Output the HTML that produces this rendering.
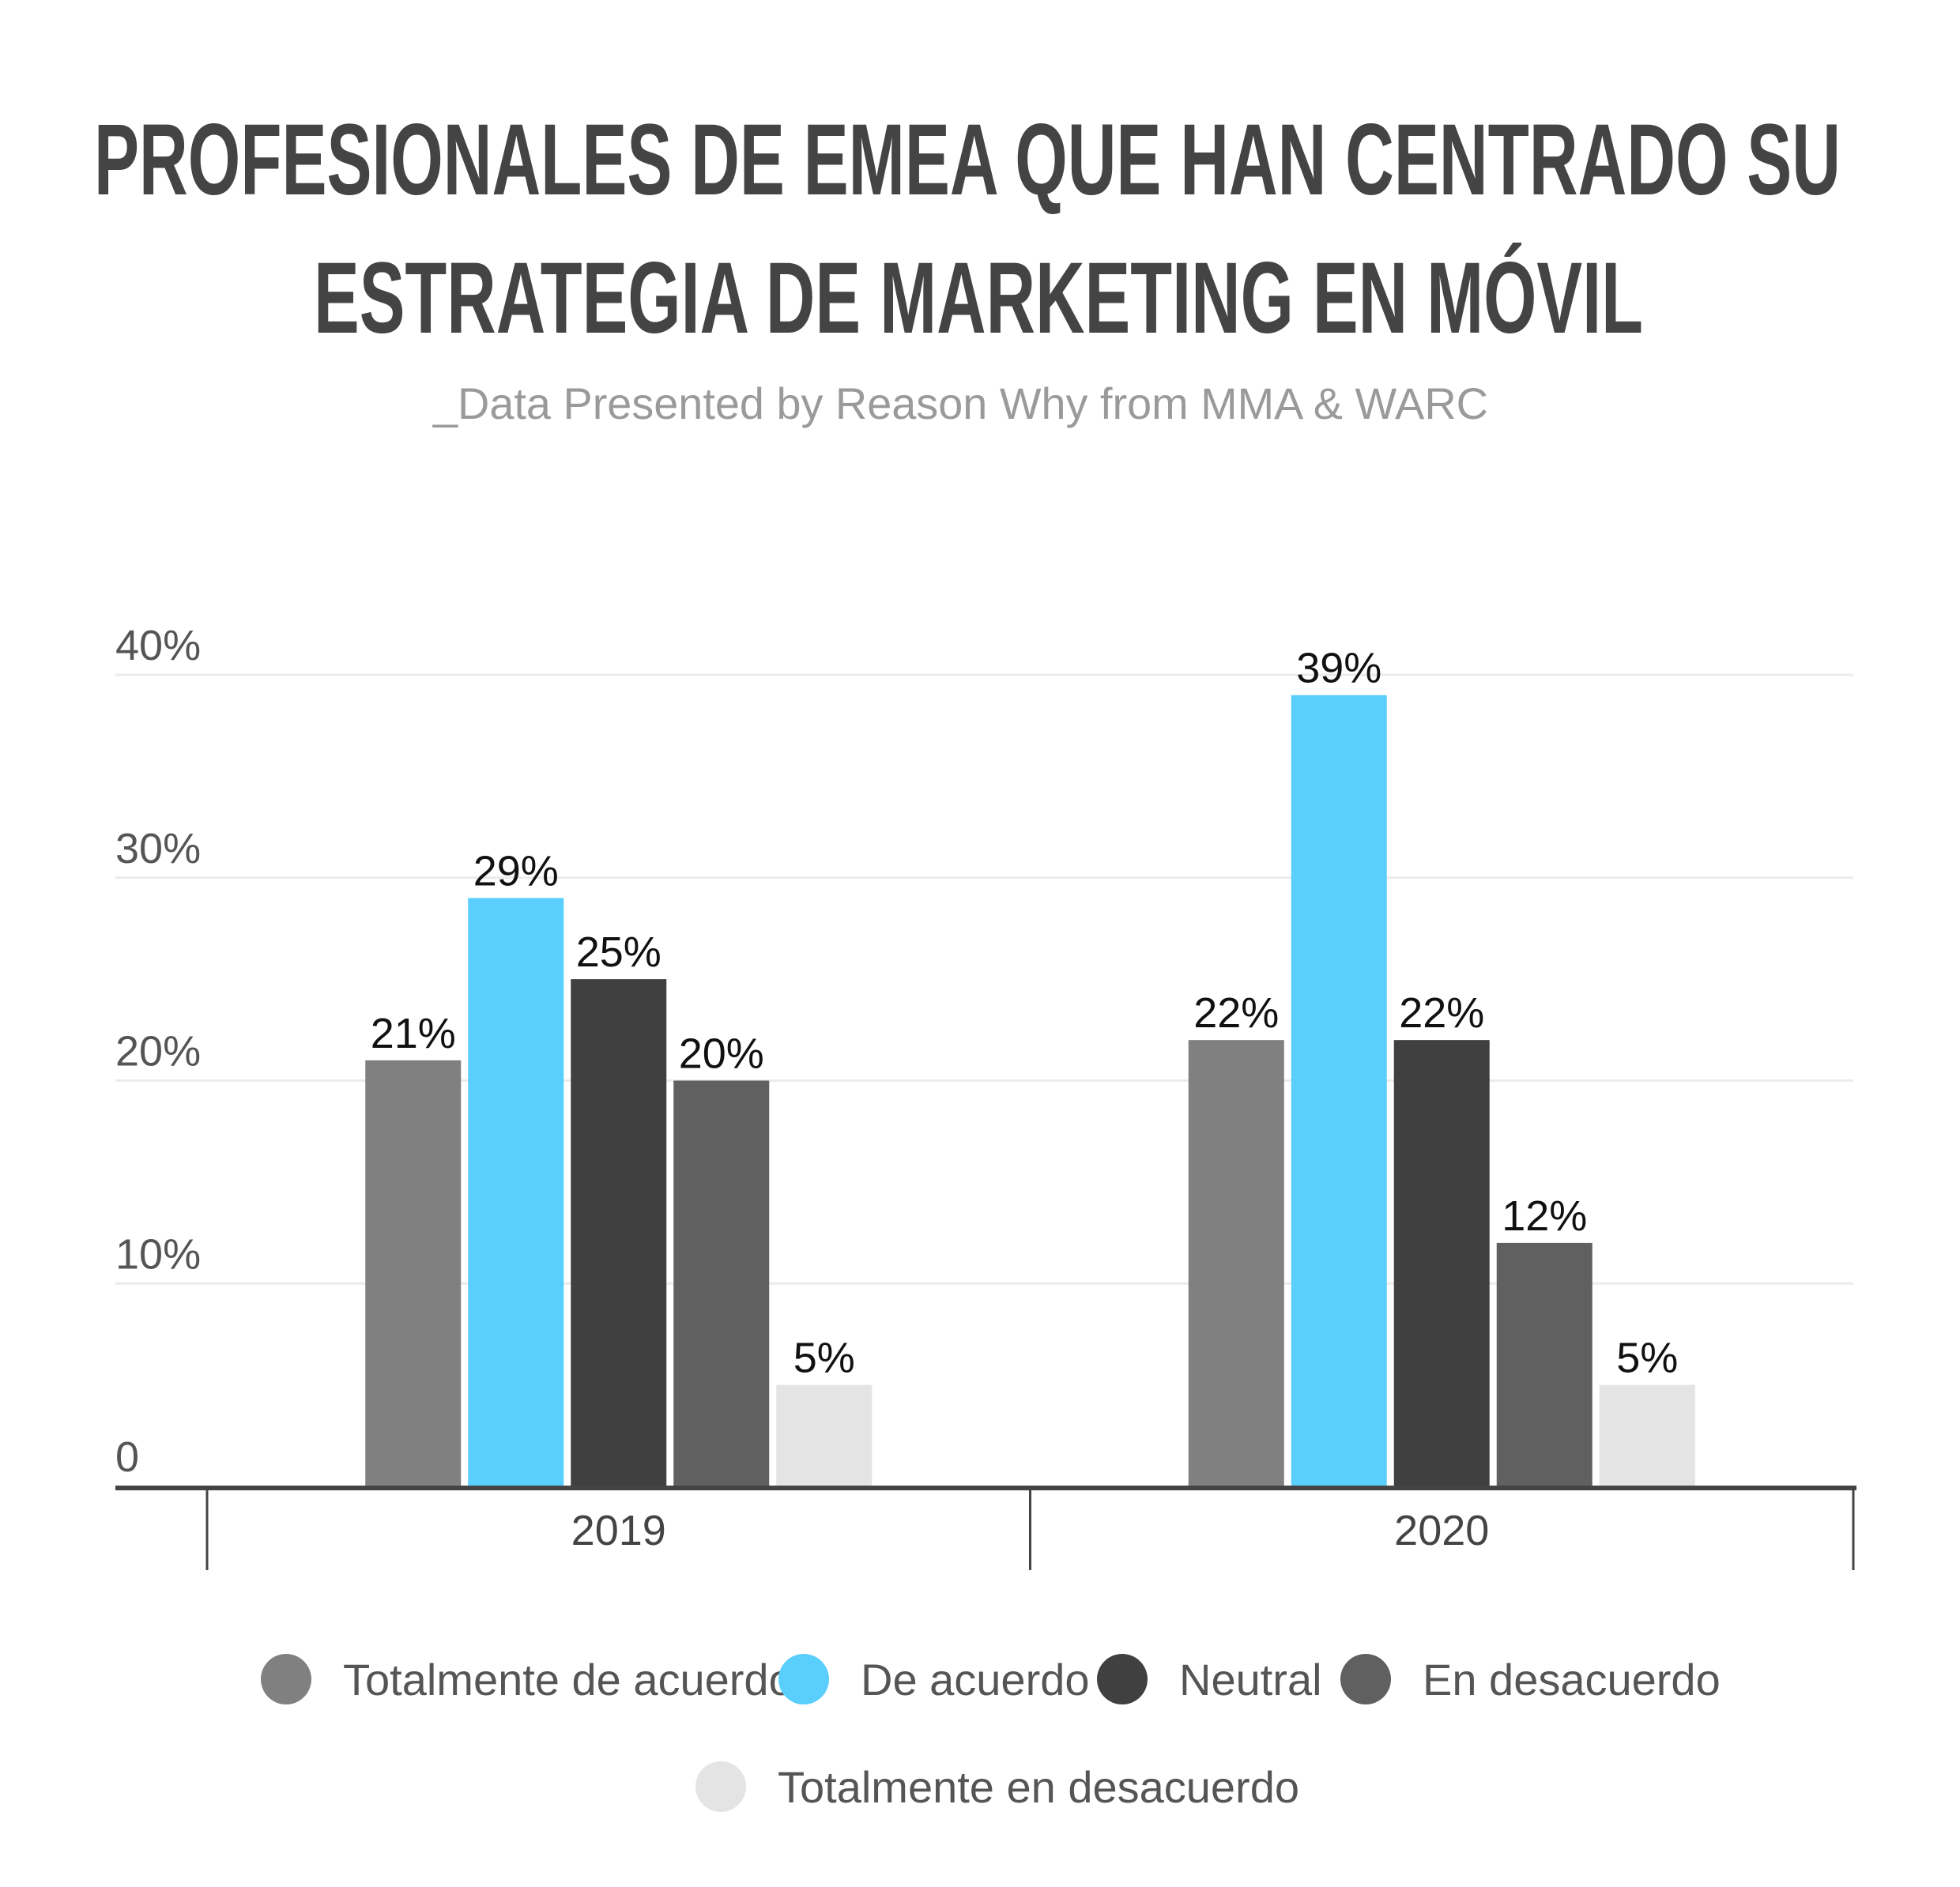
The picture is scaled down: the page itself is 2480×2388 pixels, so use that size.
<!DOCTYPE html>
<html><head><meta charset="utf-8"><style>
html,body{margin:0;padding:0;background:#fff}
svg{display:block}
text{font-family:"Liberation Sans",sans-serif}
</style></head><body>
<svg id="chart" width="2480" height="2388" viewBox="0 0 2480 2388" xmlns="http://www.w3.org/2000/svg">
<rect width="2480" height="2388" fill="#fff"/>
<text x="119" y="246" font-size="128" font-weight="bold" fill="#444" textLength="2210" lengthAdjust="spacingAndGlyphs">PROFESIONALES DE EMEA QUE HAN CENTRADO SU</text>
<text x="397" y="421" font-size="128" font-weight="bold" fill="#444" textLength="1682" lengthAdjust="spacingAndGlyphs">ESTRATEGIA DE MARKETING EN MÓVIL</text>
<text x="548" y="530" font-size="56" fill="#9a9a9a" textLength="1335" lengthAdjust="spacingAndGlyphs">_Data Presented by Reason Why from MMA &amp; WARC</text>
<g id="grid"></g>
<g id="bars"></g>
<g id="axis"></g>
<g id="legend"></g>
</svg>
<script>
const categories = ["2019","2020"];
const seriesNames = ["Totalmente de acuerdo","De acuerdo","Neutral","En desacuerdo","Totalmente en desacuerdo"];
const values2019 = [21,29,25,20,5];
const values2020 = [22,39,22,12,5];
const yTicks = [0,10,20,30,40];
const yTickLabels = ["0","10%","20%","30%","40%"];
const colors = ["#808080","#5ACEFD","#404040","#606060","#E4E4E4"];
const seriesValues = [values2019, values2020];

const NS="http://www.w3.org/2000/svg";
const x0=146, x1=2345, yBase=1881, yTop=854, yMax=40;
function y(v){return yBase-(v/yMax)*(yBase-yTop);}
const catW=(x1-262)/categories.length;
function catCenter(i){return 262+catW*(i+0.5);}
const barW=121, step=130;
function mk(tag,attrs,parent){const e=document.createElementNS(NS,tag);for(const k in attrs)e.setAttribute(k,attrs[k]);parent.appendChild(e);return e;}
const grid=document.getElementById('grid'),bars=document.getElementById('bars'),axis=document.getElementById('axis'),legend=document.getElementById('legend');
yTicks.forEach((t,i)=>{
  if(t>0){const l=mk('line',{x1:x0,x2:x1,y1:y(t),y2:y(t),stroke:'#ebebeb','stroke-width':3},grid);
  
  }
  const tx=mk('text',{x:x0,y:y(t)-19,'font-size':54,fill:'#555'},grid);
  tx.textContent=yTickLabels[i];
  
  
});
categories.forEach((c,ci)=>{
  const cx=catCenter(ci);
  seriesValues[ci].forEach((v,si)=>{
    const bx=cx+(si-2)*step-barW/2;
    const r=mk('rect',{x:bx,y:y(v),width:barW,height:yBase-y(v),fill:colors[si]},bars);
    
    
    const t=mk('text',{x:bx+barW/2,y:y(v)-16,'font-size':54,fill:'#111','text-anchor':'middle'},bars);
    t.textContent=v+'%';
    
    
  });
  const cl=mk('text',{x:cx,y:1955,'font-size':54,fill:'#444','text-anchor':'middle'},axis);
  cl.textContent=c;
  
  
});
const ax=mk('line',{x1:x0,x2:x1+4,y1:yBase+2,y2:yBase+2,stroke:'#444','stroke-width':6},axis);


for(let i=0;i<=categories.length;i++){
  const dx=262+catW*i;
  const d=mk('line',{x1:dx,x2:dx,y1:yBase,y2:1987,stroke:'#444','stroke-width':3},axis);
  
  
}
const legPos=[[362,2125],[1017,2125],[1420,2125],[1728,2125],[912,2261]];
seriesNames.forEach((n,i)=>{
  const [lx,ly]=legPos[i];
  const g=mk('g',{},legend);
  
  
  mk('circle',{cx:lx,cy:ly,r:32,fill:colors[i]},g);
  const t=mk('text',{x:lx+72,y:ly+20,'font-size':56,fill:'#555'},g);
  t.textContent=n;
});
</script>
</body></html>
